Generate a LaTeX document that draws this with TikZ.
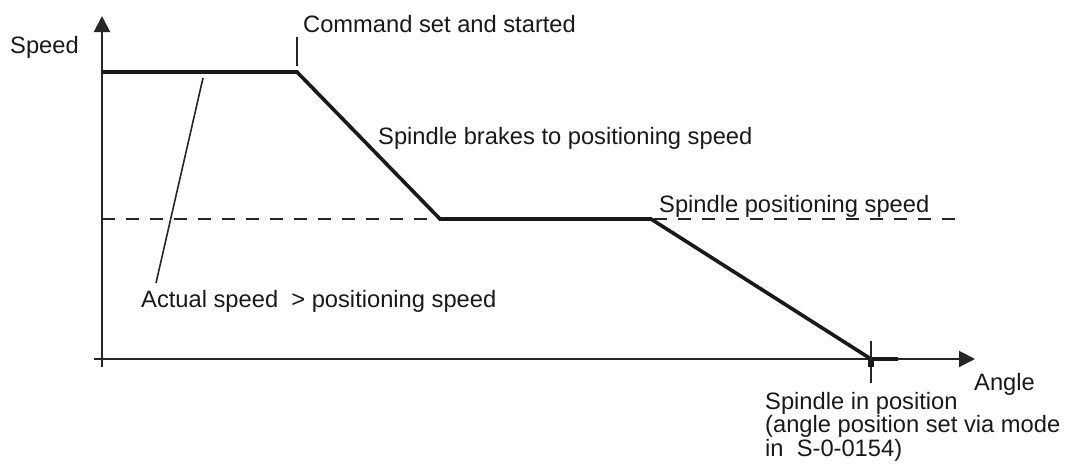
\documentclass[tikz,border=0pt]{standalone}
\usepackage{fontspec}
\setmainfont{Liberation Sans}
\usetikzlibrary{arrows.meta}
\begin{document}
\begin{tikzpicture}[x=1pt,y=-1pt,
  lbl/.style={anchor=base west,inner sep=0pt,font=\fontsize{23.7}{20}\selectfont,text=black!90},
  axis/.style={line width=2pt,black!85},
  curve/.style={line width=3.6pt,black!90},
  thin/.style={line width=1.6pt,black!85},
  dashline/.style={line width=1.5pt,black!85,dash pattern=on 13pt off 11pt},
  tip/.style={-{Triangle[length=16pt,width=16pt]}}]
\useasboundingbox (0,0) rectangle (1066,475);
% coordinates
\coordinate (yb) at (102,367);
\coordinate (yt) at (102,16);
\coordinate (xl) at (94,359);
\coordinate (xr) at (975,359);
\coordinate (p0) at (102,72);
\coordinate (p1) at (297,72);
\coordinate (p2) at (440,219);
\coordinate (p3) at (651,219);
\coordinate (p4) at (871,359);
\coordinate (p5) at (898,359);
\coordinate (dl) at (102,219);
\coordinate (dr) at (956,219);
\coordinate (ct) at (297,37);
\coordinate (cb) at (297,66);
\coordinate (at) at (203,78);
\coordinate (ab) at (156,283);
\coordinate (vt) at (871,341);
\coordinate (vb) at (871,383);
% axes
\draw[axis,tip] (yb) -- (yt);
\draw[axis,tip] (xl) -- (xr);
% dashed positioning speed
\draw[dashline] (dl) -- (dr);
% speed curve
\draw[curve,line join=miter] (p0) -- (p1) -- (p2) -- (p3) -- (p4) -- (p5);
% markers
\draw[thin] (ct) -- (cb);
\draw[thin] (at) -- (ab);
\draw[thin] (vt) -- (vb);
\fill[black!90] (868,360) rectangle (874,367);
% labels
\node[lbl] (speed) at (10,53) {Speed};
\node[lbl] (cmd) at (303,32) {Command set and started};
\node[lbl] (brake) at (378,144) {Spindle brakes to positioning speed};
\node[lbl] (pos) at (659,212) {Spindle positioning speed};
\node[lbl] (act) at (141,307) {Actual speed\ \ > positioning speed};
\node[lbl] (angle) at (974,390) {Angle};
\node[lbl,align=left] (inpos) at (765,456) {Spindle in position\\(angle position set via mode\\in\ \ S-0-0154)};
\end{tikzpicture}
\end{document}
